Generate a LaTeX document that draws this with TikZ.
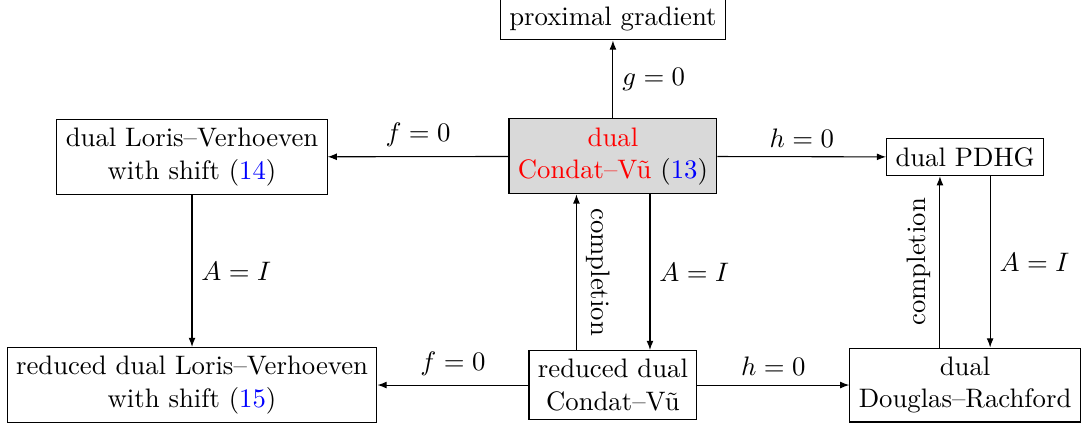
\documentclass[tikz,border=0pt]{standalone}
\usepackage{amsmath,amssymb}
\usepackage{tikz}
\usetikzlibrary{arrows.meta}

\begin{document}
\begin{tikzpicture}[algbox/.style={draw, align=center}, >={Latex[length=1.2mm]}]
	\useasboundingbox (0,0) rectangle (14.215,5.615);
	\node[algbox] (prox) at (8.06,5.365) {proximal gradient};
	\node[algbox, fill=gray!30] (cv) at (8.06,3.56) {\textcolor{red}{dual}\\ \textcolor{red}{Condat--V\~u} (\textcolor{blue}{13})};
	\node[algbox] (lv) at (2.525,3.55) {dual Loris--Verhoeven\\ with shift (\textcolor{blue}{14})};
	\node[algbox] (pdhg) at (12.69,3.55) {dual PDHG};
	\node[algbox] (rlv) at (2.525,0.552) {reduced dual Loris--Verhoeven\\ with shift (\textcolor{blue}{15})};
	\node[algbox] (rcv) at (8.06,0.552) {reduced dual\\ Condat--V\~u};
	\node[algbox] (dr) at (12.69,0.552) {dual\\ Douglas--Rachford};
	% top row
	\draw[->] (cv) -- (prox) node[midway, right] {$g=0$};
	\draw[->] (cv) -- (lv) node[midway, above] {$f=0$};
	\draw[->] (cv) -- (pdhg) node[midway, above] {$h=0$};
	% vertical links
	\draw[->] (lv) -- (rlv) node[midway, right] {$A=I$};
	\draw[->] ([xshift=0.487cm]cv.south) -- ([xshift=0.487cm]rcv.north) node[midway, right] {$A=I$};
	\draw[->] ([xshift=-0.48cm]rcv.north) -- ([xshift=-0.48cm]cv.south) node[midway, rotate=-90, anchor=south] {completion};
	\draw[->] ([xshift=-0.33cm]dr.north) -- ([xshift=-0.33cm]pdhg.south) node[midway, rotate=90, anchor=south] {completion};
	\draw[->] ([xshift=0.33cm]pdhg.south) -- ([xshift=0.33cm]dr.north) node[midway, right] {$A=I$};
	% bottom row
	\draw[->] (rcv) -- (rlv) node[midway, above] {$f=0$};
	\draw[->] (rcv) -- (dr) node[midway, above] {$h=0$};
\end{tikzpicture}
\end{document}
